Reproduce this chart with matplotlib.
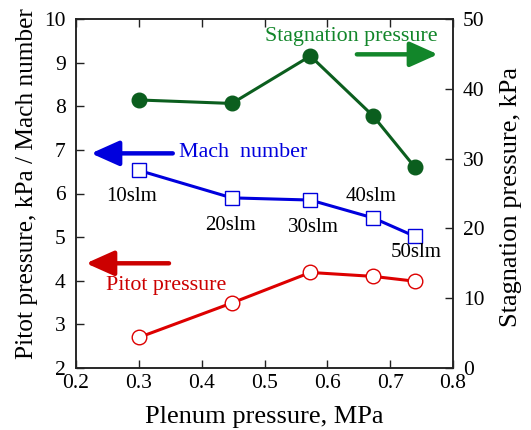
import matplotlib
matplotlib.use("Agg")
import matplotlib.pyplot as plt

plt.rcParams['font.family'] = ['Liberation Serif', 'DejaVu Serif']
plt.rcParams['mathtext.fontset'] = 'stix'

# ---- data ----
plenum = [0.30, 0.448, 0.573, 0.673, 0.739]
mach = [6.53, 5.90, 5.85, 5.44, 5.02]
pitot = [2.70, 3.49, 4.19, 4.10, 3.99]
stagnation = [38.4, 37.9, 44.7, 36.1, 28.8]
flow_labels = ['10slm', '20slm', '30slm', '40slm', '50slm']

x_ticks = [0.2, 0.3, 0.4, 0.5, 0.6, 0.7, 0.8]
left_ticks = [2, 3, 4, 5, 6, 7, 8, 9, 10]
right_ticks = [0, 10, 20, 30, 40, 50]

W, H = 531, 430
fig = plt.figure(figsize=(W / 100, H / 100), dpi=100)
ax = fig.add_axes([76 / W, 1 - 368 / H, 377 / W, 349 / H])
ax2 = ax.twinx()

green_line = '#0b5e1e'
green_text = '#12862a'
blue = '#0000dd'
red = '#dd0000'

ax2.plot(plenum, stagnation, '-o', color=green_line, lw=2.2, ms=10.5,
         mfc=green_line, mec=green_line, zorder=3)
ax.plot(plenum, mach, '-s', color=blue, lw=2.2, ms=10, mfc='white',
        mec=blue, mew=1.0, zorder=3)
ax.plot(plenum, pitot, '-o', color=red, lw=2.2, ms=10.5, mfc='white',
        mec=red, mew=1.0, zorder=3)

ax.set_xlim(0.2, 0.8)
ax.set_ylim(2, 10)
ax2.set_ylim(0, 50)
ax.set_xticks(x_ticks)
ax.set_xticklabels([f'{t:.1f}' for t in x_ticks])
ax.set_yticks(left_ticks)
ax2.set_yticks(right_ticks)

for a in (ax, ax2):
    for s in a.spines.values():
        s.set_linewidth(1.1)
        s.set_color('#222222')
ax.tick_params(axis='both', direction='in', length=6, width=1.0,
               labelsize=15.5, colors='#222222', labelcolor='black', pad=7.5)
ax.tick_params(axis='x', top=True, pad=4)
ax.tick_params(axis='y', right=False)
ax2.tick_params(axis='y', direction='in', length=6, width=1.0,
                labelsize=15.5, colors='#222222', labelcolor='black', pad=7)

ax.set_xlabel('Plenum pressure, MPa', fontsize=19, labelpad=10)
fig.text(27 / W, 1 - 184 / H, 'Pitot pressure, kPa / Mach number',
         rotation=90, fontsize=18.3, ha='center', va='center')
fig.text(511 / W, 1 - 197 / H, 'Stagnation pressure, kPa',
         rotation=90, fontsize=19, ha='center', va='center')

# flow-rate labels
label_pos = [(0.289, 5.93), (0.446, 5.26), (0.577, 5.21), (0.670, 5.93), (0.742, 4.64)]
for (lx, ly), t in zip(label_pos, flow_labels):
    ax.text(lx, ly, t, fontsize=15, ha='center', va='center', color='black')

arrow_kw = dict(arrowstyle='-|>,head_length=0.85,head_width=0.38', lw=3.2,
                shrinkA=0, shrinkB=0, mutation_scale=20)
# stagnation arrow (to the right)
ax.annotate('', xy=(0.776, 9.19), xytext=(0.647, 9.19),
            arrowprops=dict(color=green_text, **arrow_kw))
ax.text(0.638, 9.61, 'Stagnation pressure', fontsize=15.8, color=green_text,
        ha='center', va='center')
# mach arrow (to the left)
ax.annotate('', xy=(0.224, 6.92), xytext=(0.354, 6.92),
            arrowprops=dict(color=blue, **arrow_kw))
ax.text(0.364, 6.93, 'Mach  number', fontsize=15.8, color=blue,
        ha='left', va='center')
# pitot arrow (to the left)
ax.annotate('', xy=(0.216, 4.40), xytext=(0.348, 4.40),
            arrowprops=dict(color='#cc0000', **arrow_kw))
ax.text(0.248, 3.90, 'Pitot pressure', fontsize=15.8, color='#cc0000',
        ha='left', va='center')

fig.savefig('out.png', dpi=100)
